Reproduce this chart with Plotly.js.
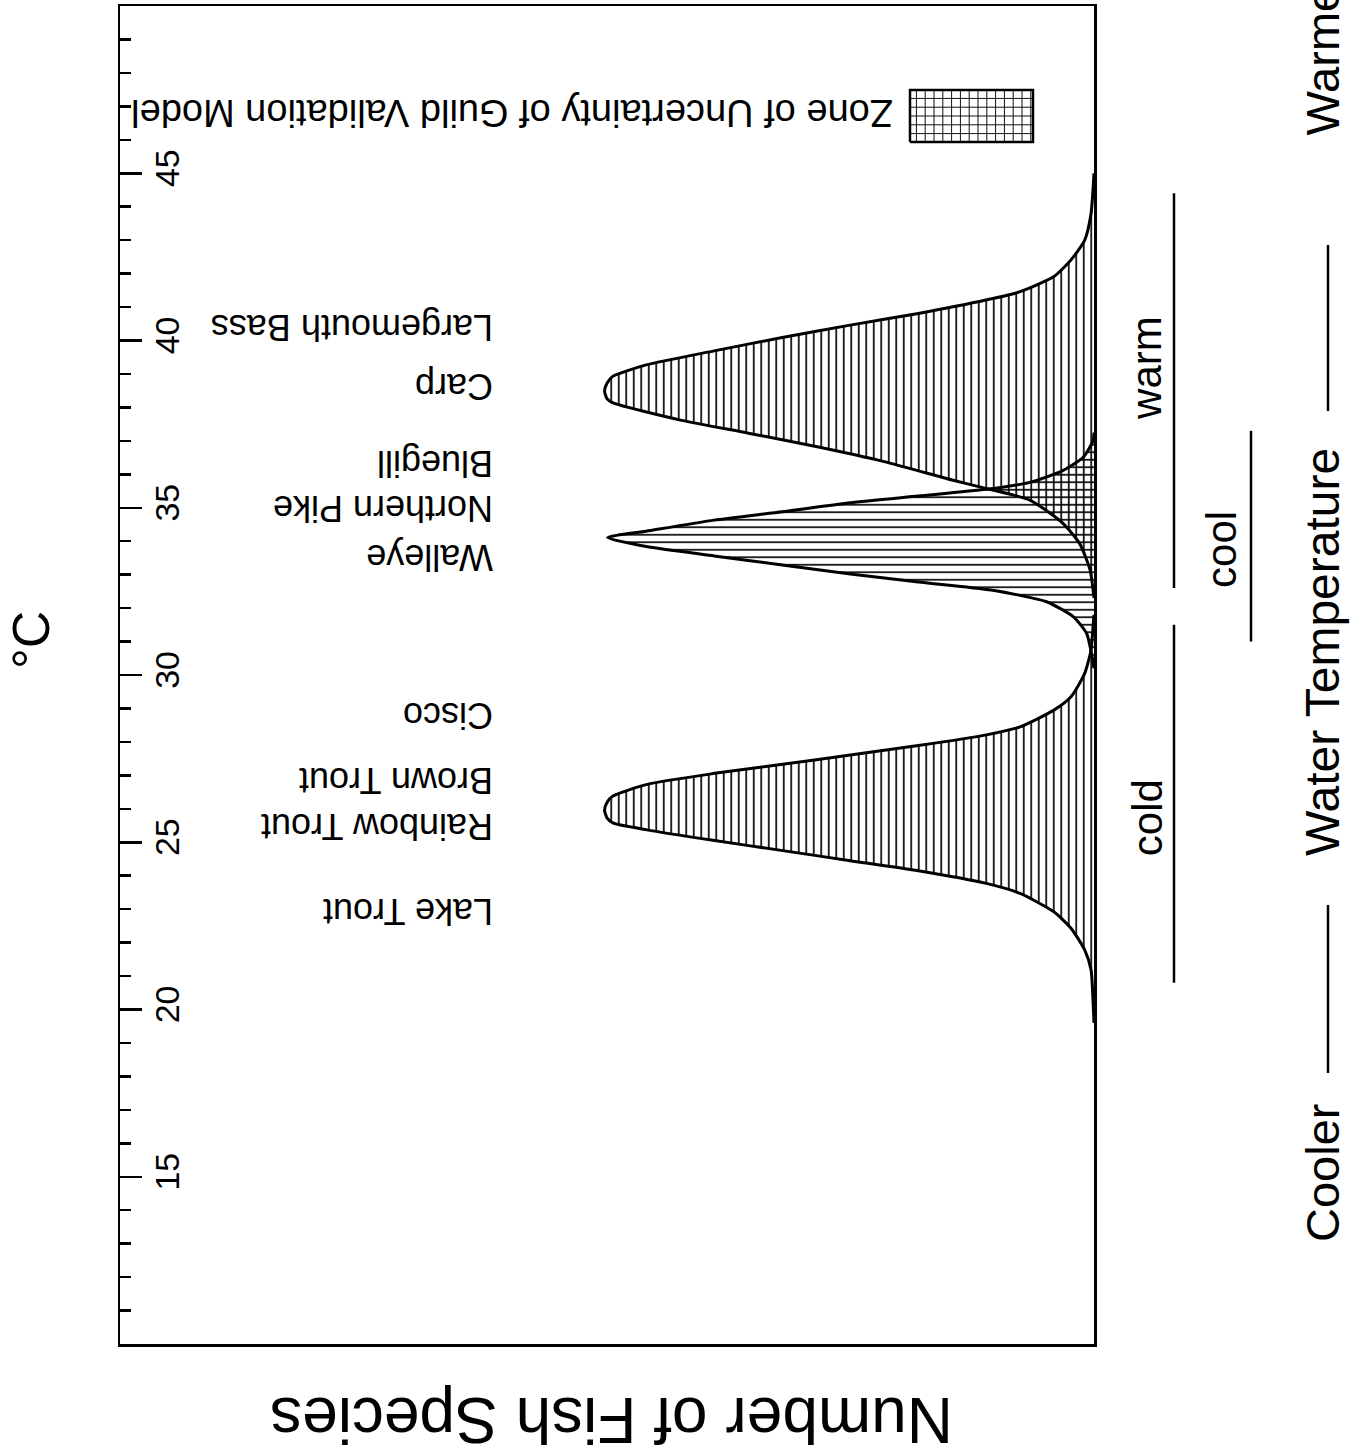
<!DOCTYPE html>
<html>
<head>
<meta charset="utf-8">
<script src="https://cdn.plot.ly/plotly-3.0.1.min.js"></script>
<style>
  html, body { margin: 0; padding: 0; background: #ffffff; }
  #chart { width: 1353px; height: 1455px; }
</style>
</head>
<body>
<div id="chart"></div>
<script>
// ---- Data (temperature in °C, relative number of fish species) ----
const coldTemp  = [19.6, 20.28, 21.18, 21.78, 22.43, 22.92, 23.47, 23.77, 24.15, 24.45, 24.75, 25.05, 25.37, 25.58, 25.73, 25.96, 26.19, 26.38, 26.73, 27.06, 27.33, 27.61, 27.89, 28.21, 28.45, 28.95, 29.35, 30.05, 30.75, 31.44, 31.8];
const coldCount = [0, 0.02, 0.06, 0.19, 0.47, 0.82, 1.51, 2.20, 3.59, 4.98, 6.36, 7.75, 9.13, 9.83, 9.95, 10.0, 9.95, 9.83, 9.13, 7.75, 6.36, 4.98, 3.59, 2.20, 1.51, 0.82, 0.47, 0.19, 0.06, 0.02, 0];

const coolTemp  = [30.2, 30.64, 31.24, 31.74, 32.19, 32.54, 32.78, 33.02, 33.29, 33.56, 33.84, 34.11, 34.30, 34.63, 34.88, 35.15, 35.35, 35.55, 35.76, 36.11, 36.51, 37.0, 37.25];
const coolCount = [0, 0.05, 0.15, 0.42, 0.97, 2.1, 3.59, 4.98, 6.37, 7.76, 9.15, 9.94, 9.15, 7.76, 6.37, 4.98, 3.59, 2.21, 1.31, 0.64, 0.22, 0.02, 0];

const warmTemp  = [32.3, 33.14, 33.92, 34.54, 35.23, 35.58, 35.83, 36.38, 36.83, 37.23, 37.62, 38.14, 38.26, 38.49, 38.72, 38.92, 39.27, 39.69, 40.09, 40.46, 40.81, 41.21, 41.46, 41.91, 42.41, 43.0, 43.8, 44.5, 45.0];
const warmCount = [0, 0.08, 0.29, 0.64, 1.31, 2.21, 2.90, 4.29, 5.68, 7.06, 8.45, 9.84, 9.95, 10.0, 9.95, 9.84, 9.15, 7.76, 6.37, 4.98, 3.59, 2.21, 1.51, 0.82, 0.47, 0.19, 0.06, 0.02, 0];

const speciesNames = ["Lake Trout", "Rainbow Trout", "Brown Trout", "Cisco", "Walleye", "Northern Pike", "Bluegill", "Carp", "Largemouth Bass"];
const speciesTemp  = [22.93, 25.47, 26.83, 28.77, 33.53, 34.96, 36.34, 38.64, 40.37];

const guildNames     = ["cold", "cool", "warm"];
const guildStart     = [20.8, 31.0, 32.6];
const guildEnd       = [31.5, 37.3, 44.4];
const guildLabelTemp = [25.72, 33.74, 39.18];

const tempTicks = [15, 20, 25, 30, 35, 40, 45];

const legendLabel = "Zone of Uncertainty of Guild Validation Model";

// ---- Layout geometry (pixels) ----
const W = 1353, H = 1455;
const M = { l: 120, r: 259, t: 6, b: 111 };
const PW = W - M.l - M.r, PH = H - M.t - M.b;
const px = x => (x - M.l) / PW;           // pixel x -> paper
const py = y => (H - M.b - y) / PH;       // pixel y -> paper

const FONT = "Liberation Sans, Arial, Helvetica, sans-serif";

function guildTrace(t, v, shape) {
  return {
    type: "scatter", mode: "lines",
    x: v, y: t,
    fill: "tozerox",
    fillcolor: "rgba(0,0,0,0)",
    fillpattern: { shape: shape, size: 7.5, solidity: 0.22, fgcolor: "#000000", bgcolor: "rgba(0,0,0,0)", fillmode: "replace" },
    line: { color: "#000000", width: 3, shape: "spline", smoothing: 0.6 },
    hoverinfo: "skip", showlegend: false
  };
}

const traces = [
  guildTrace(coldTemp, coldCount, "|"),
  guildTrace(coolTemp, coolCount, "-"),
  guildTrace(warmTemp, warmCount, "|")
];

// legend swatch on an invisible overlay subplot (paper-like 0..1 axes)
const sw = { x0: px(910), x1: px(1033), y0: py(142), y1: py(90) };
traces.push({
  type: "scatter", mode: "lines",
  x: [sw.x0, sw.x1, sw.x1, sw.x0, sw.x0],
  y: [sw.y0, sw.y0, sw.y1, sw.y1, sw.y0],
  xaxis: "x2", yaxis: "y2",
  fill: "toself",
  fillcolor: "rgba(0,0,0,0)",
  fillpattern: { shape: "+", size: 8.8, solidity: 0.2, fgcolor: "#000000", bgcolor: "rgba(0,0,0,0)", fillmode: "replace" },
  line: { color: "#000000", width: 2.5 },
  hoverinfo: "skip", showlegend: false
});

const annotations = [];
// species labels (upside down)
speciesNames.forEach((s, i) => {
  annotations.push({
    text: s, xref: "paper", yref: "y", x: px(495), y: speciesTemp[i],
    xanchor: "right", yanchor: "middle", textangle: 180, showarrow: false,
    font: { family: FONT, size: 36, color: "#000" }
  });
});
// guild labels
const guildLabelX = [1147, 1222, 1147];
guildNames.forEach((g, i) => {
  annotations.push({
    text: g, xref: "paper", yref: "y", x: px(guildLabelX[i]), y: guildLabelTemp[i],
    xanchor: "center", yanchor: "middle", textangle: -90, showarrow: false,
    font: { family: FONT, size: 42, color: "#000" }
  });
});
// legend text
annotations.push({
  text: legendLabel, xref: "paper", yref: "paper", x: px(895), y: py(113),
  xanchor: "right", yanchor: "middle", textangle: 180, showarrow: false,
  font: { family: FONT, size: 38, color: "#000" }
});
// degree label
annotations.push({
  text: "°C", xref: "paper", yref: "paper", x: px(31), y: py(640),
  xanchor: "center", yanchor: "middle", textangle: -90, showarrow: false,
  font: { family: FONT, size: 52, color: "#000" }
});
// count axis title (upside down)
annotations.push({
  text: "Number of Fish Species", xref: "paper", yref: "paper", x: px(612), y: py(1420),
  xanchor: "center", yanchor: "middle", textangle: 180, showarrow: false,
  font: { family: FONT, size: 64, color: "#000" }
});
// right side temperature caption
annotations.push({
  text: "Cooler", xref: "paper", yref: "paper", x: px(1322), y: py(1173),
  xanchor: "center", yanchor: "middle", textangle: -90, showarrow: false,
  font: { family: FONT, size: 47, color: "#000" }
});
annotations.push({
  text: "Water Temperature", xref: "paper", yref: "paper", x: px(1322), y: py(652),
  xanchor: "center", yanchor: "middle", textangle: -90, showarrow: false,
  font: { family: FONT, size: 48, color: "#000" }
});
annotations.push({
  text: "Warmer", xref: "paper", yref: "paper", x: px(1322), y: py(138),
  xanchor: "center", yanchor: "bottom", textangle: -90, showarrow: false,
  font: { family: FONT, size: 47, color: "#000" }
});

const shapes = [];
const guildLineX = [1174, 1251, 1174];
guildNames.forEach((g, i) => {
  shapes.push({
    type: "line", xref: "paper", yref: "y",
    x0: px(guildLineX[i]), x1: px(guildLineX[i]), y0: guildStart[i], y1: guildEnd[i],
    line: { color: "#000", width: 2.5 }
  });
});
shapes.push({ type: "line", xref: "paper", yref: "paper", x0: px(1328), x1: px(1328), y0: py(1073), y1: py(905), line: { color: "#000", width: 2.5 } });
shapes.push({ type: "line", xref: "paper", yref: "paper", x0: px(1328), x1: px(1328), y0: py(411), y1: py(245), line: { color: "#000", width: 2.5 } });

const layout = {
  width: W, height: H,
  margin: M,
  paper_bgcolor: "#ffffff", plot_bgcolor: "#ffffff",
  showlegend: false,
  font: { family: FONT, color: "#000" },
  xaxis: {
    range: [19.9, 0], showline: true, mirror: true, linewidth: 2.5, linecolor: "#000",
    ticks: "", showticklabels: false, showgrid: false, zeroline: false, fixedrange: true
  },
  yaxis: {
    range: [10, 50], showline: true, mirror: true, linewidth: 2.5, linecolor: "#000",
    tickmode: "array", tickvals: tempTicks, ticktext: tempTicks.map(String),
    ticks: "inside", ticklen: 22, tickwidth: 2.5, tickcolor: "#000",
    ticklabelposition: "inside", tickangle: -90,
    tickfont: { family: FONT, size: 34, color: "#000" },
    minor: { tickmode: "linear", tick0: 0, dtick: 1, ticks: "inside", ticklen: 11, tickwidth: 2.5, tickcolor: "#000", showgrid: false },
    showgrid: false, zeroline: false, fixedrange: true
  },
  xaxis2: { overlaying: "x", anchor: "y2", range: [0, 1], visible: false, fixedrange: true },
  yaxis2: { overlaying: "y", anchor: "x2", range: [0, 1], visible: false, fixedrange: true },
  annotations: annotations,
  shapes: shapes
};

Plotly.newPlot("chart", traces, layout, { staticPlot: true, displayModeBar: false });
</script>
</body>
</html>
